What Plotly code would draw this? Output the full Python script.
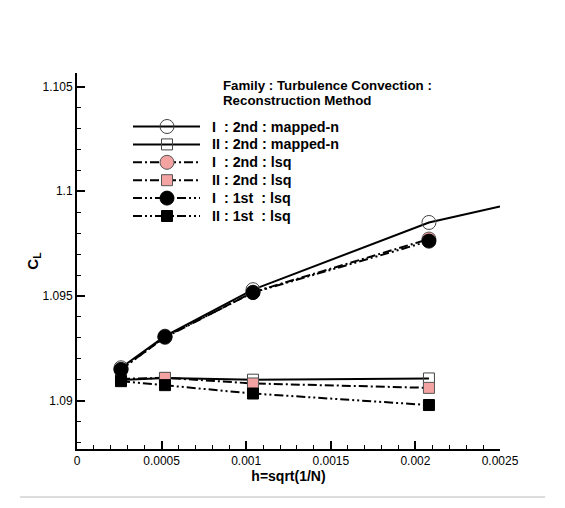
import plotly.graph_objects as go

# ---- data ----
h = [0.00026, 0.00052, 0.00104, 0.00208]
h_ext = [0.00026, 0.00052, 0.00104, 0.00208, 0.0025]

cl_I_2nd_mapped = [1.09157, 1.09308, 1.09530, 1.09851, 1.09927]   # last value: line continuation only
cl_II_2nd_mapped = [1.09098, 1.09108, 1.09100, 1.09106]
cl_I_2nd_lsq = [1.09150, 1.09302, 1.09518, 1.09772]
cl_II_2nd_lsq = [1.09104, 1.09109, 1.09082, 1.09061]
cl_I_1st_lsq = [1.09148, 1.09305, 1.09516, 1.09762]
cl_II_1st_lsq = [1.09093, 1.09074, 1.09034, 1.08979]

series_names = ["I  : 2nd : mapped-n", "II : 2nd : mapped-n", "I  : 2nd : lsq",
                "II : 2nd : lsq", "I  : 1st  : lsq", "II : 1st  : lsq"]

x_ticks = [0, 0.0005, 0.001, 0.0015, 0.002, 0.0025]
x_tick_text = ["0", "0.0005", "0.001", "0.0015", "0.002", "0.0025"]
y_ticks = [1.09, 1.095, 1.1, 1.105]
y_tick_text = ["1.09", "1.095", "1.1", "1.105"]

title_lines = ["Family : Turbulence Convection :", "Reconstruction Method"]

# ---- styles ----
PINK = "#F4A3A3"
EDGE = "#555555"
OPEN = "#444444"
DASHDOT = "9px,3px,2px,3px"
DASHDOTDOT = "9px,3px,2px,3px,2px,3px"
FONT = "Liberation Sans, Arial, sans-serif"

styles = [
    dict(dash="solid", symbol="circle-open", size=14, fill=None, edge=OPEN),
    dict(dash="solid", symbol="square-open", size=11, fill=None, edge=OPEN),
    dict(dash=DASHDOT, symbol="circle", size=14, fill=PINK, edge=EDGE),
    dict(dash=DASHDOT, symbol="square", size=11, fill=PINK, edge=EDGE),
    dict(dash=DASHDOTDOT, symbol="circle", size=14, fill="black", edge="black"),
    dict(dash=DASHDOTDOT, symbol="square", size=11, fill="black", edge="black"),
]
xs = [h_ext, h, h, h, h, h]
ys = [cl_I_2nd_mapped, cl_II_2nd_mapped, cl_I_2nd_lsq, cl_II_2nd_lsq, cl_I_1st_lsq, cl_II_1st_lsq]

fig = go.Figure()
for name, st, xv, yv in zip(series_names, styles, xs, ys):
    sizes = [st["size"] if i < len(h) else 0 for i in range(len(xv))]
    fig.add_trace(go.Scatter(
        x=xv, y=yv, mode="lines+markers", name=name, showlegend=False,
        line=dict(color="black", width=2, dash=st["dash"]),
        marker=dict(symbol=st["symbol"], size=sizes, opacity=1,
                    color=st["fill"] if st["fill"] else st["edge"],
                    line=dict(width=1, color=st["edge"])),
    ))

# ---- layout geometry (screen pixels of the plot area) ----
PL, PR, PT, PB = 77, 500, 73, 449


def px_x(p):
    return (p - PL) / (PR - PL)


def px_y(p):
    return (PB - p) / (PB - PT)


shapes = []
annotations = []

# manual legend (to reproduce long key samples and tight row spacing)
row0, row_gap = 126.5, 17.9
for i, (name, st) in enumerate(zip(series_names, styles)):
    yc = px_y(row0 + row_gap * i)
    shapes.append(dict(type="line", xref="paper", yref="paper",
                       x0=px_x(133), x1=px_x(200), y0=yc, y1=yc,
                       line=dict(color="black", width=2, dash=st["dash"])))
    half = st["size"] / 2
    shapes.append(dict(type="circle" if "circle" in st["symbol"] else "rect",
                       xref="paper", yref="paper",
                       xsizemode="pixel", ysizemode="pixel",
                       xanchor=px_x(167), yanchor=yc,
                       x0=-half, x1=half, y0=-half, y1=half,
                       fillcolor=st["fill"] if st["fill"] else "rgba(0,0,0,0)",
                       line=dict(color=st["edge"], width=1)))
    annotations.append(dict(text="<b>%s</b>" % name, xref="paper", yref="paper",
                            x=px_x(210), y=yc, xanchor="left", yanchor="middle",
                            showarrow=False, align="left",
                            font=dict(family=FONT, size=14.3, color="black")))

for j, line in enumerate(title_lines):
    annotations.append(dict(text="<b>%s</b>" % line, xref="paper", yref="paper",
                            x=px_x(222), y=px_y(85.5 + 15 * j), xanchor="left", yanchor="middle",
                            showarrow=False, align="left", borderpad=0,
                            font=dict(family=FONT, size=13.3, color="black")))

shapes.append(dict(type="line", xref="paper", yref="paper",
                   x0=px_x(20), x1=px_x(545), y0=px_y(497), y1=px_y(497),
                   line=dict(color="#BBBBBB", width=1)))

fig.update_layout(
    width=565, height=508,
    margin=dict(l=69, r=73, t=65, b=67),
    plot_bgcolor="white", paper_bgcolor="white",
    font=dict(family=FONT, color="black", size=12),
    showlegend=False,
    xaxis=dict(
        range=[0, 0.0025], showgrid=False, zeroline=False,
        showline=True, linecolor="black", linewidth=2, mirror=False,
        tickmode="array", tickvals=x_ticks, ticktext=x_tick_text,
        ticks="inside", ticklen=8, tickwidth=2, tickcolor="black",
        minor=dict(dtick=0.0001, ticks="inside", ticklen=4, tickwidth=1, tickcolor="black", showgrid=False),
        tickfont=dict(family=FONT, size=12),
        title=dict(text="h=sqrt(1/N)", font=dict(family=FONT, size=14, weight="bold"), standoff=4),
    ),
    yaxis=dict(
        range=[1.08769, 1.10565], showgrid=False, zeroline=False,
        showline=True, linecolor="black", linewidth=2, mirror=False,
        tickmode="array", tickvals=y_ticks, ticktext=y_tick_text,
        ticks="inside", ticklen=8, tickwidth=2, tickcolor="black",
        minor=dict(dtick=0.001, tick0=1.09, ticks="inside", ticklen=4, tickwidth=1, tickcolor="black", showgrid=False),
        tickfont=dict(family=FONT, size=12),
        title=dict(text="C<sub>L</sub>", font=dict(family=FONT, size=15, weight="bold"), standoff=0),
    ),
    annotations=annotations,
    shapes=shapes,
)

fig.write_html("out.html")
